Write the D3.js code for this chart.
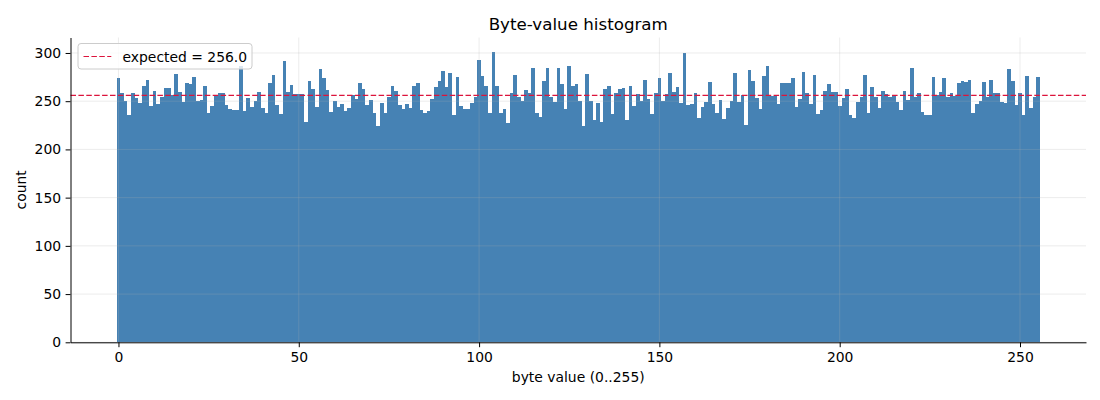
<!DOCTYPE html>
<html>
<head>
<meta charset="utf-8">
<script src="https://cdn.jsdelivr.net/npm/d3@7"></script>
<style>
  body { margin: 0; background: #fff; }
  svg { font-family: "DejaVu Sans", sans-serif; }
</style>
</head>
<body>
<svg width="1100" height="400"></svg>
<script>
// counts for each byte value 0..255
const counts = [
  274, 258, 250, 236, 258, 253, 248, 266, 272, 245, 261, 247, 254, 264, 264, 256,
  278, 260, 249, 269, 268, 275, 250, 251, 266, 238, 245, 256, 259, 259, 246, 242,
  241, 241, 286, 240, 253, 244, 250, 260, 243, 238, 269, 277, 246, 237, 292, 260,
  267, 257, 257, 257, 228, 271, 263, 244, 283, 274, 262, 239, 250, 244, 247, 240,
  243, 256, 252, 269, 263, 246, 251, 238, 224, 248, 238, 254, 266, 261, 246, 242,
  247, 243, 266, 269, 241, 238, 240, 252, 265, 271, 281, 265, 279, 236, 275, 245,
  242, 242, 248, 254, 293, 276, 266, 238, 301, 266, 238, 242, 227, 259, 277, 254,
  250, 262, 259, 284, 238, 234, 271, 284, 254, 249, 284, 268, 242, 287, 266, 268,
  250, 224, 278, 250, 230, 248, 228, 263, 266, 237, 259, 263, 264, 230, 266, 245,
  257, 250, 272, 252, 237, 259, 274, 250, 257, 279, 260, 265, 248, 300, 246, 247,
  259, 233, 244, 249, 270, 247, 238, 251, 232, 243, 250, 279, 249, 256, 225, 282,
  271, 253, 242, 276, 287, 255, 255, 247, 269, 269, 269, 274, 244, 252, 280, 259,
  247, 277, 237, 241, 261, 268, 260, 260, 245, 253, 263, 236, 233, 249, 254, 277,
  238, 265, 254, 243, 261, 257, 254, 256, 249, 241, 261, 251, 284, 254, 259, 239,
  236, 236, 275, 256, 260, 274, 254, 259, 255, 269, 271, 270, 272, 238, 247, 250,
  270, 254, 272, 259, 259, 249, 248, 283, 271, 246, 259, 236, 276, 243, 254, 275
];
const expected = 256.0;
const xTicks = [0, 50, 100, 150, 200, 250];
const yTicks = [0, 50, 100, 150, 200, 250, 300];

const box = {l: 70.5, r: 1086, t: 37.5, b: 342.3};
const svg = d3.select('svg');

const x = d3.scaleLinear()
    .domain([-13.3, 268.3])
    .range([box.l, box.r]);
const y = d3.scaleLinear()
    .domain([0, d3.max(counts) * 1.05])
    .range([box.b, box.t]);

// bars, one per byte value, bins centred on the integers
svg.append('g')
    .selectAll('rect')
    .data(counts)
    .join('rect')
        .attr('x', (d, i) => x(i - 0.5))
        .attr('width', (d, i) => x(i + 0.5) - x(i - 0.5))
        .attr('y', d => y(d))
        .attr('height', d => y(0) - y(d))
        .attr('fill', '#4682b4')
        .attr('shape-rendering', 'crispEdges');

// grid on top of the bars, faint
const grid = svg.append('g')
    .attr('stroke', '#b0b0b0')
    .attr('stroke-opacity', 0.3)
    .attr('stroke-width', 0.8);
grid.selectAll('.gx')
    .data(xTicks)
    .join('line')
        .attr('x1', d => x(d)).attr('x2', d => x(d))
        .attr('y1', box.t).attr('y2', box.b);
grid.selectAll('.gy')
    .data(yTicks)
    .join('line')
        .attr('y1', d => y(d)).attr('y2', d => y(d))
        .attr('x1', box.l).attr('x2', box.r);

// expected line
svg.append('line')
    .attr('x1', box.l).attr('x2', box.r)
    .attr('y1', y(expected)).attr('y2', y(expected))
    .attr('stroke', 'crimson')
    .attr('stroke-width', 1.2)
    .attr('stroke-dasharray', '5.5 2.4');

// axes
const xAxis = svg.append('g')
    .attr('transform', `translate(0, ${box.b})`)
    .call(d3.axisBottom(x).tickValues(xTicks).tickSize(4.9).tickPadding(4.5).tickSizeOuter(0));
const yAxis = svg.append('g')
    .attr('transform', `translate(${box.l}, 0)`)
    .call(d3.axisLeft(y).tickValues(yTicks).tickSize(4.9).tickPadding(4.5).tickSizeOuter(0));

[xAxis, yAxis].forEach(a => {
    a.select('.domain').attr('stroke', '#000').attr('stroke-width', 1);
    a.selectAll('.tick line').attr('stroke', '#000').attr('stroke-width', 1);
    a.selectAll('.tick text')
        .attr('fill', '#000')
        .style('font-family', '"DejaVu Sans", sans-serif')
        .style('font-size', '13.9px');
});

// labels
svg.append('text')
    .attr('x', (box.l + box.r) / 2).attr('y', 30)
    .attr('text-anchor', 'middle')
    .style('font-size', '16.7px')
    .text('Byte-value histogram');
svg.append('text')
    .attr('x', (box.l + box.r) / 2).attr('y', 382)
    .attr('text-anchor', 'middle')
    .style('font-size', '13.9px')
    .text('byte value (0..255)');
svg.append('text')
    .attr('transform', `translate(26, ${(box.t + box.b) / 2}) rotate(-90)`)
    .attr('text-anchor', 'middle')
    .style('font-size', '13.9px')
    .text('count');

// legend
const lg = svg.append('g').attr('transform', 'translate(78, 43.5)');
lg.append('rect')
    .attr('width', 174).attr('height', 25.5)
    .attr('rx', 3)
    .attr('fill', '#fff').attr('fill-opacity', 0.8)
    .attr('stroke', '#cccccc').attr('stroke-width', 1);
lg.append('line')
    .attr('x1', 5.5).attr('x2', 33.3)
    .attr('y1', 13).attr('y2', 13)
    .attr('stroke', 'crimson')
    .attr('stroke-width', 1.2)
    .attr('stroke-dasharray', '5.5 2.4');
lg.append('text')
    .attr('x', 44.5).attr('y', 18)
    .style('font-size', '13.9px')
    .text(`expected = ${expected.toFixed(1)}`);
</script>
</body>
</html>
